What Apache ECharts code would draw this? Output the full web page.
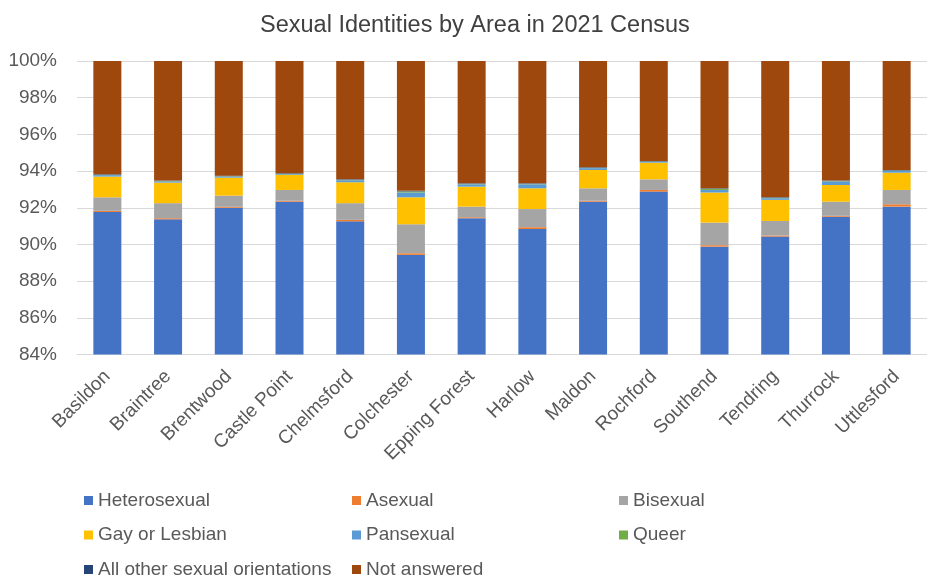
<!DOCTYPE html>
<html>
<head>
<meta charset="utf-8">
<script src="https://cdn.jsdelivr.net/npm/echarts@6/dist/echarts.min.js"></script>
<style>html,body{margin:0;padding:0;background:#fff;}#c{width:927px;height:577px;}</style>
</head>
<body>
<div id="c"></div>
<script>
const categories = ['Basildon','Braintree','Brentwood','Castle Point','Chelmsford','Colchester','Epping Forest','Harlow','Maldon','Rochford','Southend','Tendring','Thurrock','Uttlesford'];
const heterosexual = [91.77, 91.37, 92.00, 92.33, 91.26, 89.43, 91.43, 90.84, 92.33, 92.88, 89.88, 90.43, 91.51, 92.06];
const asexual      = [0.06, 0.06, 0.05, 0.05, 0.08, 0.09, 0.05, 0.10, 0.05, 0.09, 0.08, 0.06, 0.05, 0.13];
const bisexual     = [0.74, 0.82, 0.61, 0.59, 0.91, 1.58, 0.58, 0.99, 0.68, 0.58, 1.23, 0.79, 0.77, 0.78];
const gayLesbian   = [1.13, 1.12, 0.98, 0.82, 1.14, 1.47, 1.09, 1.13, 1.00, 0.91, 1.64, 1.15, 0.91, 0.94];
const pansexual    = [0.08, 0.06, 0.06, 0.04, 0.11, 0.26, 0.13, 0.22, 0.10, 0.04, 0.14, 0.09, 0.19, 0.10];
const queer        = [0.02, 0.02, 0.02, 0.02, 0.02, 0.06, 0.02, 0.02, 0.02, 0.02, 0.06, 0.02, 0.02, 0.02];
const otherOrient  = [0.03, 0.03, 0.03, 0.03, 0.03, 0.03, 0.03, 0.03, 0.03, 0.03, 0.03, 0.03, 0.03, 0.03];
const notAnswered  = [6.17, 6.52, 6.25, 6.12, 6.45, 7.08, 6.67, 6.67, 5.79, 5.45, 6.94, 7.43, 6.52, 5.94];
const yTicks = [84, 86, 88, 90, 92, 94, 96, 98, 100];

const seriesDefs = [
  ['Heterosexual', heterosexual, '#4472C4'],
  ['Asexual', asexual, '#ED7D31'],
  ['Bisexual', bisexual, '#A5A5A5'],
  ['Gay or Lesbian', gayLesbian, '#FFC000'],
  ['Pansexual', pansexual, '#5B9BD5'],
  ['Queer', queer, '#70AD47'],
  ['All other sexual orientations', otherOrient, '#264478'],
  ['Not answered', notAnswered, '#9E480E']
];
const FONT = "'Liberation Sans', Arial, sans-serif";
const chart = echarts.init(document.getElementById('c'), null, {renderer: 'canvas'});
const legendBase = {
  orient: 'vertical', top: 490.5, height: 120, padding: 0,
  itemWidth: 9, itemHeight: 9, itemGap: 14.5, icon: 'rect',
  textStyle: {fontFamily: FONT, fontSize: 19, color: '#595959', lineHeight: 20},
  selectedMode: false
};
chart.setOption({
  animation: false,
  textStyle: {fontFamily: FONT},
  title: {
    text: 'Sexual Identities by Area in 2021 Census', left: 255, top: 9,
    textStyle: {fontFamily: FONT, fontSize: 23.5, fontWeight: 'normal', color: '#404040'}
  },
  legend: [
    Object.assign({}, legendBase, {left: 84, width: 260, data: ['Heterosexual', 'Gay or Lesbian', 'All other sexual orientations']}),
    Object.assign({}, legendBase, {left: 352, width: 260, data: ['Asexual', 'Pansexual', 'Not answered']}),
    Object.assign({}, legendBase, {left: 619, width: 260, data: ['Bisexual', 'Queer']})
  ],
  grid: {left: 77, top: 61, width: 864, height: 293.5, containLabel: false},
  xAxis: {
    type: 'category', data: categories,
    axisLine: {show: true, lineStyle: {color: '#D9D9D9', width: 1}},
    axisTick: {show: false},
    axisLabel: {rotate: 45, margin: 19, fontSize: 19, color: '#595959', fontFamily: FONT, interval: 0}
  },
  yAxis: {
    type: 'value', min: yTicks[0], max: yTicks[yTicks.length - 1], interval: 2,
    axisLine: {show: false}, axisTick: {show: false},
    splitLine: {lineStyle: {color: '#D9D9D9', width: 1}},
    axisLabel: {margin: 20, fontSize: 19, color: '#595959', fontFamily: FONT, formatter: v => v + '%'}
  },
  series: seriesDefs.map(([name, data, color]) => ({
    name, type: 'bar', stack: 'total', data, barWidth: 28,
    itemStyle: {color}
  }))
});
</script>
</body>
</html>
